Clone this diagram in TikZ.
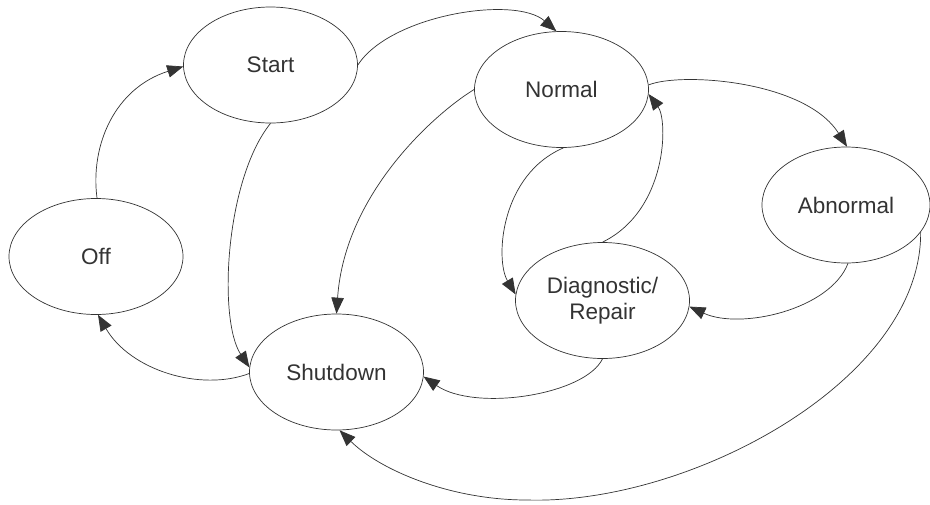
\documentclass[tikz,border=0pt]{standalone}
\usepackage{fontspec}
\setmainfont{Liberation Sans}
\usetikzlibrary{shapes.geometric,arrows.meta}
\definecolor{ink}{HTML}{333333}
\begin{document}
\begin{tikzpicture}[x=1pt,y=-1pt,
  state/.style={ellipse,draw=ink,line width=0.7pt,minimum width=174pt,
    minimum height=116pt,inner sep=0pt,align=center,text=ink,
    font=\fontsize{22.5}{26}\selectfont},
  flow/.style={draw=ink,line width=0.7pt,-{Triangle[length=16pt,width=12.5pt]}}]
\fill[white] (0,0) rectangle (930,504);
\useasboundingbox (0,0) rectangle (930,504);

% states
\node[state] (off)      at (96,256.5)  {Off};
\node[state] (start)    at (270.5,65)  {Start};
\node[state] (normal)   at (561.5,89.5){Normal};
\node[state,minimum width=168pt] (abnormal) at (846,205) {Abnormal};
\node[state] (diag)     at (602.5,300.5){Diagnostic/\\Repair};
\node[state] (shutdown) at (336.5,372) {Shutdown};

% transitions
\draw[flow] (off.89) .. controls (90,145) and (115,88) .. (start.181);
\draw[flow] (start.0) .. controls (390,15) and (515,-5) .. (normal.95);
\draw[flow] (start.270) .. controls (225,180) and (218,320) .. (shutdown.177);
\draw[flow] (normal.180) .. controls (440,110) and (345,190) .. (shutdown.90);
\draw[flow] (normal.3) .. controls (680,72) and (805,80) .. (abnormal.89);
\draw[flow] (diag.90) .. controls (668,210) and (668,120) .. (normal.-3);
\draw[flow] (normal.-88) .. controls (500,175) and (495,260) .. (diag.176);
\draw[flow] (abnormal.-88) .. controls (830,310) and (740,330) .. (diag.-4);
\draw[flow] (diag.-90) .. controls (585,395) and (475,412) .. (shutdown.-3);
\draw[flow] (shutdown.181) .. controls (200,392) and (130,370) .. (off.-88);
\coordinate (low) at (527,500);
\draw[flow] (abnormal.-20) .. controls (922,380) and (690,505) .. (low)
  .. controls (450,500) and (380,470) .. (shutdown.-87);
\end{tikzpicture}
\end{document}
